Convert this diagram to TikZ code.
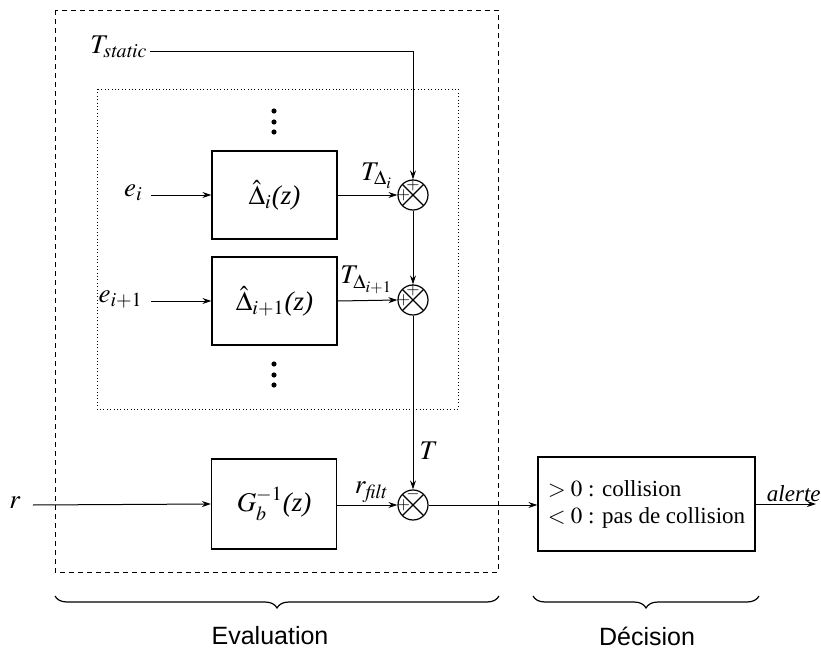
\documentclass[tikz,border=0pt]{standalone}
\usepackage{mathptmx}
\usepackage{fontspec}
\setmainfont{Liberation Serif}
\setsansfont{Liberation Sans}
\usetikzlibrary{arrows.meta,positioning,decorations.pathreplacing}

\begin{document}
\begin{tikzpicture}[x=0.5pt,y=-0.5pt,
      font=\fontsize{13.5}{16}\selectfont,
      bloc/.style={draw,line width=0.6pt,minimum width=62.5pt,minimum height=44pt,inner sep=0pt},
      somme/.style={draw,circle,line width=0.6pt,minimum size=15pt,inner sep=0pt,
        path picture={\draw (path picture bounding box.south west) -- (path picture bounding box.north east)
          (path picture bounding box.north west) -- (path picture bounding box.south east);}},
      signe/.style={font=\fontsize{8.5}{8.5}\selectfont,inner sep=0pt},
      arr/.style={-{Stealth[length=4.5pt,width=3pt]},line width=0.5pt},
      lbl/.style={inner sep=1pt},
      accol/.style={decorate,decoration={brace,mirror,amplitude=6pt},line width=0.6pt}]

    \useasboundingbox (0,0) rectangle (821,653);

    % evaluation and filter bank frames
    \draw[dash pattern=on 2.5pt off 2pt,line width=0.5pt] (55,10) rectangle (498,572);
    \draw[dash pattern=on 0.5pt off 1.2pt,line width=0.5pt] (97,89) rectangle (458,409);

    % filters
    \node[bloc] (d1) at (274.5,195) {$\hat{\Delta}_i$\textit{(z)}};
    \node[bloc] (d2) at (274.5,301) {$\hat{\Delta}_{i+1}$\textit{(z)}};
    \node[bloc,minimum height=45pt] (g) at (274,504) {$G_b^{-1}$\textit{(z)}};
    \node[bloc,minimum width=108.5pt,minimum height=47pt,align=left,
          font=\fontsize{11.5}{13.5}\selectfont] (dec) at (646.5,504)
      {$>0$ : collision\\ $<0$ : pas de collision};

    % summing junctions
    \node[somme] (s1) at (413,195) {};
    \node[somme] (s2) at (413,300) {};
    \node[somme] (s3) at (413,505) {};
    \node[signe] (s1h) at ([yshift=-3pt]s1.north) {$+$};
    \node[signe] (s1g) at ([xshift=3pt]s1.west) {$+$};
    \node[signe] (s2h) at ([yshift=-3pt]s2.north) {$+$};
    \node[signe] (s2g) at ([xshift=3pt]s2.west) {$+$};
    \node[signe] (s3h) at ([yshift=-2.5pt]s3.north) {$-$};
    \node[signe] (s3g) at ([xshift=3pt]s3.west) {$+$};

    % inputs
    \node[lbl,anchor=east] (ts) at (150,47) {$T_{\mathit{static}}$};
    \node[lbl,anchor=east] (ei) at (145,193) {$e_i$};
    \node[lbl,anchor=east] (ei1) at (145,299) {$e_{i+1}$};
    \node[lbl] (r) at (15,503) {$r$};
    \coordinate (out) at (816,504);

    % dots
    \foreach \y in {111,122,132,364,375,385}
      \fill (274,\y) circle[radius=1.3pt];

    \draw[arr] (ts.east) ++(0,4) -| (s1.north);
    \draw[arr] (ei1.east |- d1.west) ++(6,0) -- (d1.west);
    \draw[arr] (ei1.east |- d2.west) ++(6,0) -- (d2.west);
    \draw[arr] (d1.east) -- (s1.west) node[lbl,pos=1,anchor=south east,xshift=-1pt,yshift=2pt] {$T_{\Delta_i}$};
    \draw[arr] (d2.east) -- (s2.west) node[lbl,pos=1,anchor=south east,xshift=-1pt,yshift=2pt] {$T_{\Delta_{i+1}}$};
    \draw[arr] (s1) -- (s2);
    \draw[arr] (s2) -- (s3) node[lbl,pos=0.78,right,xshift=2pt] {$T$};
    \draw[arr] (r.east) ++(10,2) -- (g.west);
    \draw[arr] (g.east |- s3) -- (s3.west) node[lbl,midway,above,xshift=2pt] {$r_{\mathit{filt}}$};
    \draw[arr] (s3.east) -- (dec.west |- s3);
    \draw[arr] (dec.east) -- (out) node[lbl,midway,above,font=\fontsize{11.5}{13.5}\selectfont\itshape,xshift=4pt] {alerte};

    % braces
    \coordinate (evg) at (55,596);
    \coordinate (evd) at (499,596);
    \coordinate (deg) at (533,596);
    \coordinate (ded) at (759,596);
    \draw[accol] (evg) -- (evd);
    \draw[accol] (deg) -- (ded);
    \node[font=\fontsize{12.5}{15}\sffamily] (eval) at (270,636) {Evaluation};
    \node[font=\fontsize{12.5}{15}\sffamily] (decis) at (647,636) {Décision};
  \end{tikzpicture}
\end{document}
